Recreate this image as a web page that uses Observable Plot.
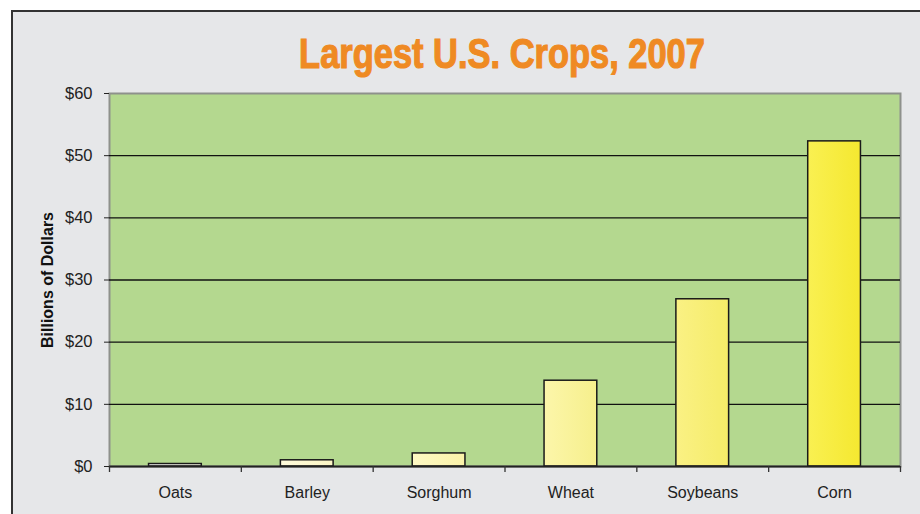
<!DOCTYPE html>
<html>
<head>
<meta charset="utf-8">
<script src="https://cdn.jsdelivr.net/npm/d3@7"></script>
<script src="https://cdn.jsdelivr.net/npm/@observablehq/plot@0.6"></script>
<style>
  html, body { margin: 0; padding: 0; background: #ffffff; width: 920px; height: 514px; overflow: hidden; }
  #panel { position: absolute; left: 11px; top: 10px; width: 915px; height: 510px; background: #e6e7e9; border-left: 2px solid #333; border-top: 2px solid #333; box-sizing: border-box; }
  #chart { position: absolute; left: 0; top: 0; }
  #title { position: absolute; left: 0; top: 30px; width: 1004px; text-align: center; font-family: "Liberation Sans", Arial, sans-serif; font-weight: bold; font-size: 42px; color: #ef8a23; -webkit-text-stroke: 1.2px #ef8a23; white-space: nowrap; transform: scaleX(0.82); transform-origin: 502px 0; }
</style>
</head>
<body>
<div id="panel"></div>
<div id="chart"></div>
<div id="title">Largest U.S. Crops, 2007</div>
<script>
const crops = ["Oats", "Barley", "Sorghum", "Wheat", "Soybeans", "Corn"];
const values = [0.4, 1.0, 2.1, 13.8, 26.9, 52.3];
const barLeftColors = ["#ffffff", "#fffbdc", "#fef9c4", "#fcf6aa", "#faf184", "#f9f052"];
const barRightColors = ["#fdfbe8", "#fbf5c4", "#faf2a8", "#f6ef8c", "#f5ec68", "#f5e830"];
const yTicks = [0, 10, 20, 30, 40, 50, 60];
const gridLines = [10, 20, 30, 40, 50];
const yLabel = "Billions of Dollars";

const data = crops.map((c, i) => ({crop: c, value: values[i], grad: `url(#bargrad${i})`}));

const W = 920, H = 514, ML = 109, MR = 20, MT = 93, MB = 48;
const step = (W - ML - MR) / crops.length;

const chart = Plot.plot({
  width: W,
  height: H,
  marginLeft: ML,
  marginRight: MR,
  marginTop: MT,
  marginBottom: MB,
  style: {background: "transparent", fontFamily: "'Liberation Sans', Arial, sans-serif", fontSize: "16px", color: "#222"},
  x: {domain: crops, paddingInner: 0.6, paddingOuter: 0.3, round: false},
  y: {domain: [0, 60]},
  color: {type: "identity"},
  marks: [
    Plot.frame({fill: "#b4d88f", stroke: "#8e918c", strokeWidth: 2}),
    Plot.ruleY(gridLines, {stroke: "#111", strokeWidth: 1.3}),
    Plot.barY(data, {x: "crop", y: "value", fill: "grad", stroke: "#1a1a1a", strokeWidth: 1.5}),
    Plot.ruleY([0], {stroke: "#222", strokeWidth: 2}),
    Plot.ruleX([0], {frameAnchor: "left", stroke: "#222", strokeWidth: 1.5}),
    Plot.ruleX(crops, {x: d => d, y1: 0, y2: 0, insetBottom: -6, dx: -step / 2, stroke: "#333", strokeWidth: 1.3}),
    Plot.ruleX([crops[crops.length - 1]], {x: d => d, y1: 0, y2: 0, insetBottom: -6, dx: step / 2, stroke: "#333", strokeWidth: 1.3}),
    Plot.axisY({ticks: yTicks, tickFormat: d => "$" + d, tickSize: 5, tickPadding: 12, label: null, stroke: "#222", fontSize: 16.5}),
    Plot.axisX({tickSize: 0, tickPadding: 20, label: null, fontSize: 16}),
    Plot.text([yLabel], {frameAnchor: "left", dx: -62, rotate: -90, textAnchor: "middle", fontWeight: "bold", fontSize: 16, fill: "#111"})
  ]
});

// gradient definitions for the bar fills
const svg = d3.select(chart);
const defs = svg.insert("defs", ":first-child");
crops.forEach((c, i) => {
  const g = defs.append("linearGradient").attr("id", `bargrad${i}`).attr("x1", "0").attr("x2", "1").attr("y1", "0").attr("y2", "0");
  g.append("stop").attr("offset", "0%").attr("stop-color", barLeftColors[i]);
  g.append("stop").attr("offset", "100%").attr("stop-color", barRightColors[i]);
});
document.getElementById("chart").appendChild(chart);
</script>
</body>
</html>
